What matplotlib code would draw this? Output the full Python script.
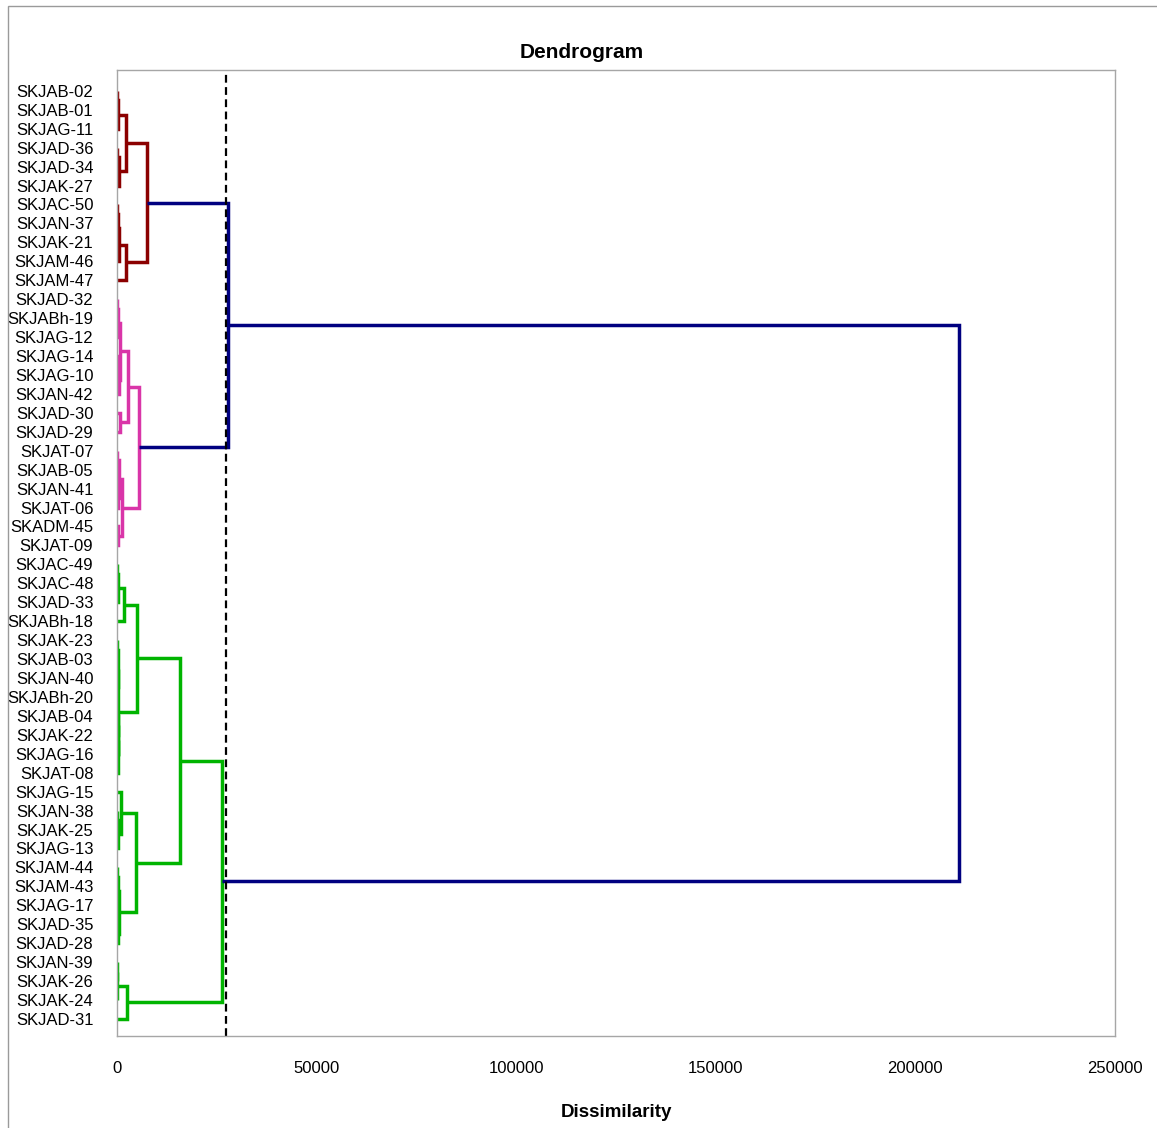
import matplotlib.pyplot as plt
from matplotlib.patches import Rectangle

plt.rcParams['font.family'] = ['Liberation Sans Narrow', 'Liberation Sans', 'DejaVu Sans']

# leaves, top to bottom
leaf_labels = [
    "SKJAB-02", "SKJAB-01", "SKJAG-11", "SKJAD-36", "SKJAD-34", "SKJAK-27",
    "SKJAC-50", "SKJAN-37", "SKJAK-21", "SKJAM-46", "SKJAM-47",
    "SKJAD-32", "SKJABh-19", "SKJAG-12", "SKJAG-14", "SKJAG-10", "SKJAN-42",
    "SKJAD-30", "SKJAD-29", "SKJAT-07", "SKJAB-05", "SKJAN-41", "SKJAT-06",
    "SKADM-45", "SKJAT-09",
    "SKJAC-49", "SKJAC-48", "SKJAD-33", "SKJABh-18", "SKJAK-23", "SKJAB-03",
    "SKJAN-40", "SKJABh-20", "SKJAB-04", "SKJAK-22", "SKJAG-16", "SKJAT-08",
    "SKJAG-15", "SKJAN-38", "SKJAK-25", "SKJAG-13", "SKJAM-44", "SKJAM-43",
    "SKJAG-17", "SKJAD-35", "SKJAD-28", "SKJAN-39", "SKJAK-26", "SKJAK-24",
    "SKJAD-31",
]

# merge trees: (left, right, dissimilarity), ints are leaf rows
red_tree = ((((0, 1, 50), 2, 300), ((3, 4, 100), 5, 400), 2250),
            ((((6, 7, 50), 8, 200), 9, 450), 10, 2250), 7500)
magenta_tree = (((((11, 12, 100), 13, 300), ((14, 15, 150), 16, 400), 700),
                 (17, 18, 750), 2800),
                (((19, 20, 100), (21, 22, 200), 400), (23, 24, 300), 1150), 5400)
green_tree = ((((((25, 26, 80), 27, 350), 28, 1750),
                (((29, 30, 50), (31, 32, 100), 200),
                 (((33, 34, 150), 35, 250), 36, 300), 350), 4900),
               ((37, ((38, 39, 100), 40, 300), 900),
                (((41, 42, 80), 43, 200), (44, 45, 300), 600), 4750), 15800),
              (((46, 47, 50), 48, 100), 49, 2500), 26300)

red_magenta_height = 27800
root_height = 211000
cut_level = 27300

cluster_colors = {"red": "#8B0000", "magenta": "#D935A8", "green": "#00B400"}
upper_color = "#000080"
x_ticks = [0, 50000, 100000, 150000, 200000, 250000]

LW = 2.5


def draw_link(ax, y1, h1, y2, h2, h, color):
    ax.plot([h1, h, h, h2], [y1, y1, y2, y2], color=color, lw=LW,
            solid_capstyle='butt', solid_joinstyle='miter')


def draw_tree(ax, node, color):
    """Draw a subtree, return (position, height) of its top"""
    if isinstance(node, int):
        return float(node), 0.0
    left, right, h = node
    yl, hl = draw_tree(ax, left, color)
    yr, hr = draw_tree(ax, right, color)
    c = color if h < cut_level else upper_color
    draw_link(ax, yl, hl, yr, hr, h, c)
    return (yl + yr) / 2, h


fig = plt.figure(figsize=(11.57, 11.28), dpi=100)
ax = fig.add_axes([117 / 1157, 1 - 1036 / 1128, (1115 - 117) / 1157, (1036 - 70) / 1128])

# outer chart frame
fig.patches.append(Rectangle((8 / 1157, -0.01), 1.0, 1 - 6 / 1128 + 0.01,
                             transform=fig.transFigure, fill=False,
                             edgecolor='#9a9a9a', lw=1))

yr_, hr_ = draw_tree(ax, red_tree, cluster_colors["red"])
ym_, hm_ = draw_tree(ax, magenta_tree, cluster_colors["magenta"])
yg_, hg_ = draw_tree(ax, green_tree, cluster_colors["green"])

draw_link(ax, yr_, hr_, ym_, hm_, red_magenta_height, upper_color)
y_up = (yr_ + ym_) / 2
draw_link(ax, y_up, red_magenta_height, yg_, hg_, root_height, upper_color)

ax.axvline(cut_level, color='black', lw=1.6, ls=(0, (3.5, 2)))

ax.set_xlim(0, 250000)
ax.set_ylim(49.9, -1.1)
ax.set_xticks(x_ticks)
ax.set_xticklabels([str(v) for v in x_ticks], fontsize=12)
ax.set_yticks(range(len(leaf_labels)))
ax.set_yticklabels(leaf_labels, fontsize=12)
ax.tick_params(axis='y', length=0, pad=17)
ax.tick_params(axis='x', length=0, pad=18)
for s in ax.spines.values():
    s.set_color('#a6a6a6')
    s.set_linewidth(1)

ax.set_xlabel("Dissimilarity", fontsize=13.5, fontweight='bold', labelpad=20)
fig.text(582 / 1157, 1 - 53 / 1128, "Dendrogram", fontsize=15, fontweight='bold',
         ha='center', va='center')

fig.savefig("out.png", dpi=100)
